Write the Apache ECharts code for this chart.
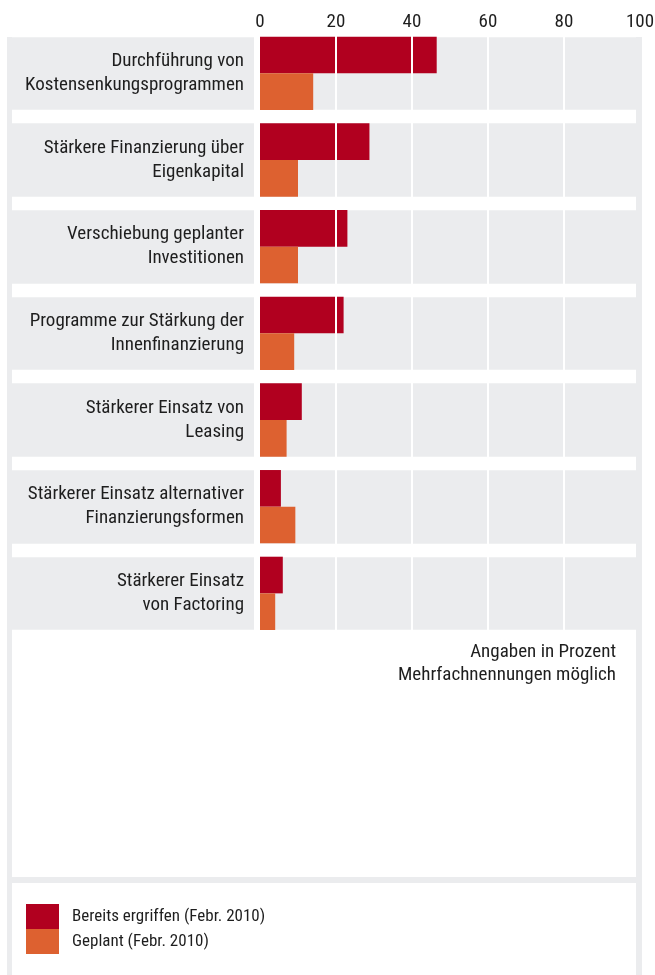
<!DOCTYPE html>
<html>
<head>
<meta charset="utf-8">
<script src="https://cdn.jsdelivr.net/npm/echarts@6/dist/echarts.min.js"></script>
<style>
html,body{margin:0;padding:0;background:#fff;}
#chart{width:655px;height:975px;}
</style>
</head>
<body>
<div id="chart"></div>
<script>
const categories = [
  "Durchführung von\nKostensenkungsprogrammen",
  "Stärkere Finanzierung über\nEigenkapital",
  "Verschiebung geplanter\nInvestitionen",
  "Programme zur Stärkung der\nInnenfinanzierung",
  "Stärkerer Einsatz von\nLeasing",
  "Stärkerer Einsatz alternativer\nFinanzierungsformen",
  "Stärkerer Einsatz\nvon Factoring"
];
const bereitsErgriffen = [46.5, 28.8, 23, 22, 11, 5.5, 6];
const geplant = [14, 10, 10, 9, 7, 9.3, 4];
const seriesNames = ["Bereits ergriffen (Febr. 2010)", "Geplant (Febr. 2010)"];
const xTicks = [0, 20, 40, 60, 80, 100];
const noteLines = ["Angaben in Prozent", "Mehrfachnennungen möglich"];

const GRAY = '#ebecee';
const RED = '#b1001f';
const ORANGE = '#dd6130';
const TEXT = '#1e1e1e';
const FONT = "'Liberation Sans Narrow', 'Roboto Condensed', 'DejaVu Sans Condensed', Roboto, sans-serif";

const chart = echarts.init(document.getElementById('chart'), null, {renderer: 'canvas'});

const gridTop = 30, gridHeight = 606.7;

const option = {
  animation: false,
  backgroundColor: '#fff',
  textStyle: {fontFamily: FONT, color: TEXT},
  grid: [
    {left: 7, width: 247, top: gridTop, height: gridHeight, show: true, backgroundColor: GRAY, borderWidth: 0, containLabel: false, outerBoundsMode: 'none'},
    {left: 260, width: 380, top: gridTop, height: gridHeight, show: true, backgroundColor: GRAY, borderWidth: 0, containLabel: false, outerBoundsMode: 'none'}
  ],
  xAxis: [
    {gridIndex: 0, type: 'value', min: 0, max: 1, show: false},
    {gridIndex: 1, type: 'value', min: xTicks[0], max: xTicks[xTicks.length - 1], interval: 20, position: 'top', z: 5,
      axisLine: {show: false}, axisTick: {show: false},
      axisLabel: {margin: -2, fontSize: 19, color: TEXT, fontFamily: FONT},
      splitLine: {show: true, showMinLine: false, showMaxLine: false, lineStyle: {color: '#ffffff', width: 2}}
    }
  ],
  yAxis: [
    {gridIndex: 0, type: 'category', data: categories, inverse: true, z: 1,
      axisLine: {show: false}, axisTick: {show: false}, axisLabel: {show: false},
      splitLine: {show: true, showMinLine: true, showMaxLine: true, lineStyle: {color: '#ffffff', width: 13.3}}
    },
    {gridIndex: 1, type: 'category', data: categories, inverse: true, z: 1,
      axisLine: {show: false}, axisTick: {show: false},
      axisLabel: {margin: 16, fontSize: 19, lineHeight: 24, color: TEXT, fontFamily: FONT, align: 'right'},
      splitLine: {show: true, showMinLine: true, showMaxLine: true, lineStyle: {color: '#ffffff', width: 13.3}}
    }
  ],
  legend: {
    orient: 'vertical', left: 26, top: 904, padding: 0, itemWidth: 33, itemHeight: 25, itemGap: 0,
    icon: 'rect', selectedMode: false,
    data: seriesNames,
    textStyle: {fontSize: 17, color: TEXT, fontFamily: FONT, padding: [1, 0, 0, 8]}
  },
  series: [
    {name: seriesNames[0], type: 'bar', xAxisIndex: 1, yAxisIndex: 1, data: bereitsErgriffen,
      barGap: '0%', barCategoryGap: '15.4%', itemStyle: {color: RED}},
    {name: seriesNames[1], type: 'bar', xAxisIndex: 1, yAxisIndex: 1, data: geplant,
      barGap: '0%', barCategoryGap: '15.4%', itemStyle: {color: ORANGE}}
  ],
  graphic: [
    {type: 'rect', z: 100, shape: {x: 7, y: 37, width: 5, height: 938}, style: {fill: GRAY}},
    {type: 'rect', z: 100, shape: {x: 636, y: 37, width: 6, height: 938}, style: {fill: GRAY}},
    {type: 'rect', z: 100, shape: {x: 12, y: 877, width: 624, height: 6}, style: {fill: GRAY}},
    {type: 'text', z: 100, x: 616, y: 663.5, style: {text: noteLines.join('\n'), align: 'right', verticalAlign: 'middle', lineHeight: 23, fontSize: 19, fontFamily: FONT, fill: TEXT}}
  ]
};
chart.setOption(option);
</script>
</body>
</html>
